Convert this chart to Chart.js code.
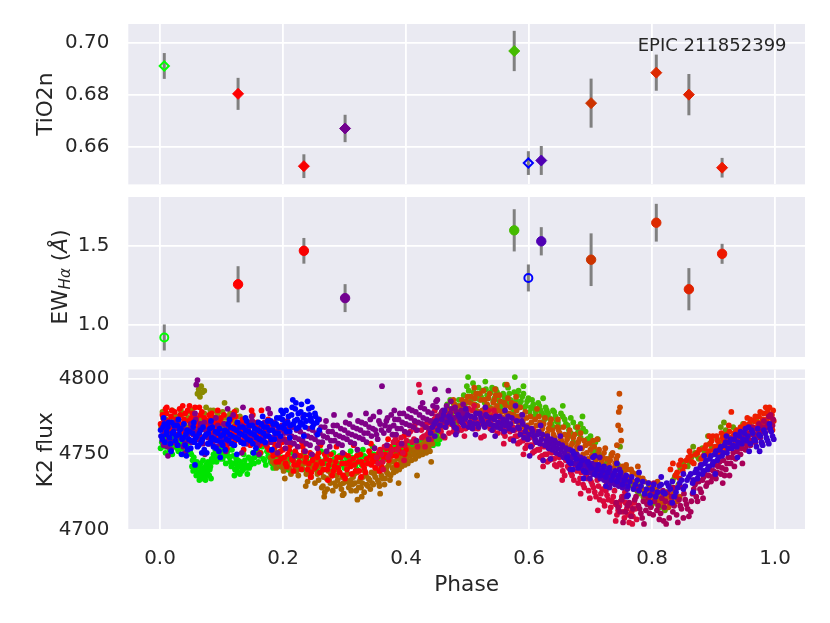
<!DOCTYPE html>
<html>
<head>
<meta charset="utf-8">
<script src="https://cdn.jsdelivr.net/npm/chart.js@4.4.1/dist/chart.umd.min.js"></script>
<style>
  body { margin: 0; background: #fff; }
  #wrap { position: relative; width: 830px; height: 623px; }
  #wrap canvas { position: absolute; left: 0; }
</style>
</head>
<body>
<div id="wrap">
  <canvas id="tioChart" width="830" height="191" style="top:0"></canvas>
  <canvas id="ewChart" width="830" height="172" style="top:191px"></canvas>
  <canvas id="fluxChart" width="830" height="260" style="top:363px"></canvas>
</div>
<script>
// Spectroscopic epochs (phase) and measurements
const specPhase = [0.007, 0.127, 0.234, 0.301, 0.576, 0.599, 0.620, 0.701, 0.807, 0.860, 0.914];
const tioValues = [0.6912, 0.6804, 0.6524, 0.6670, 0.6970, 0.6536, 0.6546, 0.6768, 0.6886, 0.6801, 0.6518];
const tioErrors = [0.0050, 0.0062, 0.0046, 0.0053, 0.0078, 0.0046, 0.0056, 0.0095, 0.0070, 0.0080, 0.0038];
const ewValues = [0.923, 1.258, 1.469, 1.171, 1.598, 1.298, 1.529, 1.413, 1.646, 1.227, 1.450];
const ewErrors = [0.082, 0.114, 0.081, 0.088, 0.133, 0.085, 0.089, 0.166, 0.119, 0.133, 0.063];
const specColors = ['#00ff00', '#ff0000', '#f80000', '#720090', '#44bb00', '#0000ff', '#5000b4', '#cc3300', '#dd2a00', '#e02200', '#ee1800'];
const specOpen = [true, false, false, false, false, true, false, false, false, false, false];

// Tick positions
const xTicks = [0, 0.2, 0.4, 0.6, 0.8, 1.0];
const tioTicks = [0.66, 0.68, 0.70];
const ewTicks = [1.0, 1.5];
const fluxTicks = [4700, 4750, 4800];

// K2 light curve, phase-folded, arrays per colour (cycle)  [phase, flux]
const lcLime = [[.003,4758],[.006,4762],[.008,4755],[.010,4760],[.012,4764],[.014,4757],[.016,4753],[.018,4761],[.021,4758],[.023,4763],[.025,4755],[.027,4760],[.030,4752],[.032,4757],[.034,4762],[.036,4754],[.039,4759],[.041,4751],[.043,4756],[.046,4753],[.048,4758],
  [.051,4750],[.053,4746],[.055,4748],[.057,4743],[.058,4740],[.060,4745],[.062,4738],[.063,4742],[.065,4736],[.066,4744],[.068,4739],[.069,4734],[.071,4741],[.072,4737],[.074,4733],[.076,4740],[.078,4745],[.080,4736],[.082,4742],[.084,4747],[.087,4750],
  [.090,4753],[.093,4749],[.096,4755],[.099,4751],[.102,4747],[.105,4752],[.108,4756],[.111,4749],[.114,4745],[.117,4753],[.120,4744],[.122,4740],[.124,4747],[.126,4738],[.128,4742],[.131,4745],[.133,4739],[.136,4750],[.139,4743],[.142,4737],[.145,4741],[.148,4746],[.151,4751],[.154,4748],[.158,4753],[.162,4749],[.166,4755],[.170,4746],[.174,4752],[.178,4748],[.182,4744],[.186,4750],[.190,4746],[.194,4742],[.198,4748],
  [.202,4744],[.206,4740],[.210,4747],[.214,4751],[.218,4745],[.222,4741],[.226,4748],[.230,4743],[.234,4750],[.238,4746],[.242,4742],[.246,4749],[.250,4745],[.254,4740],[.258,4747],[.262,4752],[.266,4744],[.270,4748],[.274,4742],[.278,4746],[.282,4751],[.286,4745],[.290,4740],[.294,4748],[.298,4743],
  [.302,4749],[.306,4745],[.310,4752],[.314,4747],[.318,4743],[.322,4750],[.326,4746],[.330,4753],[.334,4748],[.338,4744],[.342,4751],[.346,4755],[.350,4749],[.354,4745],[.358,4752],[.362,4748],[.366,4754],[.370,4750],[.374,4746],[.378,4753],[.382,4757],[.386,4751],[.390,4755],[.394,4749],[.398,4756],[.402,4752],[.406,4758],[.410,4754],[.414,4750],[.418,4757],[.422,4753],[.426,4759],[.430,4755],[.434,4760],[.438,4756],[.442,4762],[.446,4758],[.450,4763],[.455,4760]];
const lcLimeB = [[.001,4754],[.005,4757],[.009,4751],[.013,4759],[.017,4756],[.020,4750],[.024,4761],[.028,4754],[.033,4758],[.037,4750],[.040,4756],[.044,4760],[.049,4752],[.052,4742],[.054,4739],[.056,4745],[.059,4736],[.061,4742],[.064,4733],[.067,4740],[.070,4746],[.073,4735],[.075,4743],[.077,4738],[.079,4744],[.081,4740],[.083,4734],[.086,4745],[.089,4748],[.092,4745],[.095,4751],[.098,4747],[.101,4753],[.104,4749],[.107,4744],[.110,4752],[.113,4748],[.116,4742],[.119,4749],[.121,4736],[.123,4744],[.125,4741],[.127,4746],[.130,4737],[.132,4743],[.135,4740],[.138,4746],[.141,4741],[.144,4748],[.147,4743],[.150,4747],[.153,4744],[.156,4750],[.160,4745],[.164,4751],[.168,4747],[.172,4743],[.176,4749],[.180,4745],[.184,4741],[.188,4747],[.192,4749],[.196,4744],[.200,4741],[.204,4748],[.208,4744],[.212,4739],[.216,4746],[.220,4742],[.224,4749],[.228,4745],[.232,4740],[.236,4747],[.240,4744],[.244,4740],[.248,4746],[.252,4742],[.256,4749],[.260,4744],[.264,4740],[.268,4746],[.272,4750],[.276,4743],[.280,4739],[.284,4747],[.288,4743],[.292,4749],[.296,4745],[.300,4741],[.304,4747],[.308,4743],[.312,4748],[.316,4744],[.320,4740],[.324,4747],[.328,4743],[.332,4749],[.336,4745],[.340,4748],[.344,4744],[.348,4750],[.352,4746],[.356,4749],[.360,4745],[.364,4751],[.368,4747],[.372,4752],[.376,4749],[.380,4754],[.384,4750],[.388,4748],[.392,4753],[.396,4751],[.400,4755],[.404,4750],[.408,4756],[.412,4752],[.416,4755],[.420,4751],[.424,4757],[.428,4753],[.432,4758],[.436,4754],[.440,4759],[.444,4756],[.448,4761],[.452,4757]];
const lcOlive = [[.002,4768],[.005,4774],[.008,4771],[.011,4777],[.014,4765],[.017,4772],[.020,4779],[.023,4769],[.026,4775],[.029,4762],[.032,4770],[.035,4776],[.038,4766],[.041,4773],[.044,4768],[.047,4778],[.050,4764],[.053,4771],[.056,4775],[.059,4767],[.061,4790],[.063,4793],[.065,4788],[.067,4795],[.069,4791],[.072,4792],[.064,4773],[.068,4769],[.072,4777],[.075,4781],[.078,4772],[.081,4768],[.084,4776],[.087,4779],[.090,4770],[.093,4774],[.096,4765],[.099,4772],[.102,4778],[.105,4784],[.105,4769],[.108,4775],[.112,4771],[.116,4767],[.120,4773],[.124,4779],[.128,4770],[.132,4766],[.136,4772],[.140,4768],[.145,4763],[.150,4769],[.155,4761],[.160,4766],[.190,4746],[.196,4744]];
const lcOliveB = [[.004,4778],[.010,4773],[.016,4768],[.022,4775],[.028,4771],[.034,4779],[.040,4769],[.046,4774],[.052,4779],[.058,4771],[.070,4774],[.076,4769],[.082,4779],[.088,4773],[.094,4777],[.100,4768],[.106,4774],[.114,4777],[.122,4770],[.130,4775],[.138,4764],[.146,4771]];
const lcOliveGreen = [[.665,4762],[.672,4758],[.680,4765],[.688,4766],[.695,4760],[.703,4756],[.710,4752],[.718,4748],[.726,4744],[.734,4750],[.742,4745],[.748,4755],[.750,4740],[.756,4735],[.762,4729],[.766,4733],[.770,4727],[.774,4731],[.778,4724],[.782,4729],[.786,4722],[.790,4726],[.795,4730],[.800,4724],[.805,4718],[.810,4722],[.813,4715],[.818,4719],[.823,4725],[.828,4729],[.834,4733],[.840,4737],[.846,4741],[.852,4745],[.858,4742],[.864,4748],[.870,4751],[.876,4747],[.882,4754],[.888,4750],[.894,4757],[.900,4753],[.906,4760],[.912,4768],[.916,4762],[.920,4766],[.926,4761],[.932,4768],[.940,4765],[.948,4770],[.956,4768],[.965,4772],[.975,4770],[.990,4776]];
const lcOliveGreenB = [[.668,4764],[.684,4761],[.700,4758],[.714,4750],[.730,4747],[.745,4743],[.753,4737],[.760,4732],[.768,4730],[.776,4726],[.784,4727],[.792,4722],[.802,4720],[.808,4725],[.816,4717],[.826,4722],[.837,4735],[.849,4743],[.861,4745],[.873,4749],[.885,4752],[.897,4755],[.909,4758],[.922,4764],[.936,4766],[.952,4767],[.970,4774],
  [.757,4741],[.781,4733],[.799,4716],[.821,4713],[.843,4730],[.867,4755],[.891,4762],[.917,4771]];
const lcGreen = [[.440,4762],[.446,4768],[.452,4765],[.458,4772],[.463,4769],[.468,4776],[.472,4786],[.476,4779],[.480,4774],[.484,4782],[.488,4777],[.492,4785],[.496,4780],[.501,4801],[.504,4788],[.509,4797],[.512,4783],[.516,4790],[.520,4786],[.524,4792],[.528,4784],[.532,4789],[.536,4781],[.540,4794],[.544,4787],[.548,4791],[.552,4785],[.556,4779],[.560,4788],[.564,4783],[.566,4794],[.570,4786],[.574,4780],[.577,4801],[.581,4789],[.585,4783],[.589,4788],[.593,4781],[.597,4785],[.601,4778],[.605,4786],[.609,4780],[.613,4775],[.617,4782],[.621,4777],[.625,4773],[.629,4779],[.633,4774],[.637,4770],[.641,4778],[.645,4772],[.650,4768],[.655,4775],[.660,4770],[.665,4766],[.672,4771],[.680,4764],[.688,4767],[.696,4760],[.705,4756],[.712,4760]];
const lcGreenB = [[.443,4765],[.449,4771],[.455,4768],[.461,4775],[.466,4772],[.470,4780],[.474,4776],[.478,4783],[.482,4779],[.486,4786],[.490,4781],[.494,4789],[.498,4784],[.502,4792],[.506,4786],[.510,4791],[.514,4787],[.518,4794],[.522,4788],[.526,4786],[.530,4793],[.534,4787],[.538,4791],[.542,4785],[.546,4793],[.550,4788],[.554,4782],[.558,4790],[.562,4786],[.568,4790],[.572,4784],[.576,4791],[.579,4786],[.583,4792],[.587,4785],[.591,4790],[.595,4782],[.599,4787],[.603,4781],[.607,4783],[.611,4778],[.615,4784],[.619,4779],[.623,4776],[.627,4781],[.631,4777],[.635,4773],[.639,4779],[.643,4775],[.647,4771],[.652,4777],[.658,4773],[.663,4769],[.668,4774],[.676,4768],[.684,4770],[.692,4765],[.700,4762],[.708,4758],
  [.451,4760],[.467,4783],[.483,4771],[.499,4795],[.513,4779],[.529,4798],[.545,4780],[.561,4796],[.575,4777],[.591,4795],[.607,4775],[.623,4787],[.639,4768],[.655,4782],[.671,4763],[.687,4775],[.703,4752]];
const lcBrown = [[.180,4748],[.186,4744],[.192,4750],[.198,4742],[.204,4747],[.210,4741],[.216,4746],[.222,4739],[.228,4744],[.234,4748],[.238,4737],[.242,4742],[.246,4735],[.250,4740],[.254,4745],[.258,4733],[.262,4738],[.265,4729],[.268,4725],[.271,4734],[.274,4739],[.277,4731],[.280,4736],[.283,4742],[.286,4729],[.289,4733],[.292,4738],[.295,4727],[.298,4731],[.301,4736],[.304,4741],[.307,4728],[.310,4733],[.313,4730],[.316,4737],[.319,4726],[.321,4720],[.324,4732],[.327,4728],[.330,4735],[.333,4739],[.336,4730],[.339,4734],[.342,4727],[.345,4731],[.348,4737],[.351,4741],[.354,4733],[.357,4729],[.360,4736],[.363,4740],[.366,4734],[.369,4738],[.372,4743],[.375,4736],[.378,4741],[.381,4745],[.384,4739],[.387,4743],[.390,4748],[.393,4742],[.396,4746],[.399,4751],[.403,4744],[.407,4749],[.411,4753],[.415,4747],[.419,4752],[.423,4756],[.427,4750],[.431,4754],[.435,4758],[.439,4752],[.443,4757]];
const lcBrownB = [[.183,4745],[.189,4741],[.195,4747],[.201,4739],[.207,4744],[.213,4737],[.219,4743],[.225,4736],[.231,4741],[.236,4744],[.240,4732],[.244,4738],[.248,4743],[.252,4731],[.256,4737],[.260,4742],[.263,4728],[.266,4735],[.269,4740],[.272,4727],[.275,4733],[.278,4737],[.281,4726],[.284,4731],[.287,4736],[.290,4740],[.293,4730],[.296,4735],[.299,4724],[.302,4732],[.305,4737],[.308,4731],[.311,4726],[.314,4735],[.317,4731],[.320,4738],[.323,4728],[.326,4734],[.329,4731],[.332,4725],[.335,4736],[.338,4729],[.341,4733],[.344,4738],[.347,4730],[.350,4735],[.353,4739],[.356,4731],[.359,4740],[.362,4734],[.365,4730],[.368,4741],[.371,4737],[.374,4733],[.377,4745],[.380,4738],[.383,4742],[.386,4747],[.389,4740],[.392,4745],[.395,4749],[.398,4743],[.401,4747],[.405,4752],[.409,4746],[.413,4750],[.417,4755],[.421,4749],[.425,4753],[.429,4757],[.433,4751],[.437,4755],
  [.187,4752],[.203,4734],[.221,4749],[.237,4729],[.253,4747],[.267,4722],[.282,4745],[.297,4723],[.312,4744],[.328,4722],[.343,4745],[.358,4724],[.373,4748],[.388,4731],[.404,4754],[.418,4736],[.432,4760],[.441,4745]];
const lcOrange = [[.445,4766],[.452,4772],[.458,4768],[.464,4776],[.470,4771],[.476,4779],[.482,4774],[.488,4782],[.494,4777],[.498,4785],[.502,4780],[.506,4788],[.510,4783],[.514,4790],[.518,4778],[.522,4786],[.526,4792],[.530,4781],[.534,4787],[.538,4776],[.542,4784],[.546,4789],[.550,4779],[.554,4785],[.558,4774],[.562,4782],[.564,4796],[.568,4777],[.572,4784],[.576,4772],[.580,4779],[.584,4770],[.588,4776],[.592,4768],[.596,4774],[.600,4765],[.604,4771],[.608,4762],[.612,4769],[.616,4775],[.620,4764],[.624,4770],[.628,4761],[.632,4767],[.636,4773],[.640,4763],[.644,4758],[.648,4766],[.652,4760],[.656,4768],[.660,4757],[.664,4763],[.668,4755],[.672,4761],[.676,4752],[.680,4758],[.684,4764],[.688,4750],[.692,4756],[.696,4747],[.700,4753],[.704,4759],[.708,4745],[.712,4750],[.716,4743],[.720,4748],[.724,4754],[.728,4741],[.732,4746],[.736,4751],[.740,4744],[.744,4749],[.746,4778],[.747,4790],[.748,4781],[.749,4766],[.750,4759],[.754,4738],[.758,4743],[.762,4735],[.766,4740],[.770,4732],[.775,4737],[.780,4729],[.785,4734],[.790,4726],[.795,4731],[.800,4722],[.805,4727],[.810,4720],[.815,4725],[.820,4718],[.826,4723],[.832,4720],[.838,4726],[.845,4722]];
const lcOrangeB = [[.448,4770],[.455,4776],[.461,4773],[.467,4779],[.473,4775],[.479,4783],[.485,4778],[.491,4786],[.496,4781],[.500,4788],[.504,4784],[.508,4779],[.512,4787],[.516,4782],[.520,4790],[.524,4779],[.528,4786],[.532,4783],[.536,4790],[.540,4780],[.544,4786],[.548,4782],[.552,4789],[.556,4778],[.560,4784],[.564,4777],[.566,4787],[.570,4781],[.574,4776],[.578,4783],[.582,4775],[.586,4781],[.590,4772],[.594,4778],[.598,4769],[.602,4775],[.606,4767],[.610,4773],[.614,4765],[.618,4771],[.622,4767],[.626,4774],[.630,4764],[.634,4770],[.638,4766],[.642,4761],[.646,4768],[.650,4764],[.654,4758],[.658,4763],[.662,4760],[.666,4766],[.670,4757],[.674,4763],[.678,4755],[.682,4760],[.686,4754],[.690,4759],[.694,4751],[.698,4757],[.702,4749],[.706,4755],[.710,4747],[.714,4753],[.718,4745],[.722,4751],[.726,4747],[.730,4743],[.734,4749],[.738,4741],[.742,4747],[.745,4769],[.752,4742],[.756,4736],[.760,4740],[.764,4733],[.768,4738],[.773,4731],[.778,4735],[.783,4727],[.788,4732],[.793,4724],[.798,4729],[.803,4721],[.808,4726],[.813,4718],[.818,4723],[.823,4721],[.829,4717],[.835,4724],[.841,4719],
  [.459,4762],[.477,4786],[.493,4771],[.511,4794],[.527,4774],[.545,4793],[.561,4771],[.579,4788],[.597,4763],[.613,4780],[.629,4757],[.647,4773],[.663,4751],[.679,4768],[.695,4744],[.711,4760],[.727,4737],[.743,4756],[.759,4730],[.777,4742],[.793,4720],[.809,4732],[.827,4715],[.843,4729]];
const lcRed = [[.001,4770],[.004,4776],[.007,4764],[.009,4780],[.012,4772],[.015,4767],[.018,4775],[.021,4770],[.024,4778],[.027,4763],[.030,4771],[.033,4776],[.036,4768],[.039,4773],[.042,4766],[.045,4779],[.048,4782],[.051,4774],[.054,4769],[.057,4781],[.060,4771],[.063,4765],[.066,4776],[.069,4770],[.072,4774],[.075,4762],[.078,4768],[.081,4773],[.084,4777],[.087,4766],[.090,4771],[.093,4760],[.096,4767],[.099,4774],[.102,4763],[.105,4770],[.108,4757],[.111,4766],[.114,4772],[.117,4761],[.120,4768],[.123,4775],[.126,4764],[.129,4770],[.132,4758],[.135,4765],[.138,4771],[.141,4762],[.144,4768],[.147,4756],[.149,4779],[.152,4763],[.155,4769],[.158,4758],[.161,4764],[.165,4779],[.168,4760],[.171,4766],[.174,4755],[.176,4773],[.179,4761],[.182,4752],[.185,4758],[.188,4764],[.191,4750],[.194,4756],[.197,4747],[.200,4753],[.204,4744],[.208,4750],[.212,4756],[.216,4746],[.220,4752],[.224,4743],[.228,4749],[.232,4755],[.236,4745],[.240,4740],[.244,4751],[.248,4746],[.252,4741],[.256,4748],[.260,4738],[.264,4744],[.268,4750],[.272,4740],[.276,4746],[.280,4736],[.284,4742],[.288,4748],[.292,4738],[.296,4744],[.300,4750],[.304,4740],[.308,4745],[.312,4737],[.316,4743],[.320,4749],[.324,4739],[.328,4745],[.332,4741],[.336,4747],[.340,4752],[.344,4743],[.348,4749],[.352,4745],[.356,4751],[.360,4742],[.364,4748],[.368,4754],[.372,4746],[.376,4752],[.380,4758],[.384,4749],[.388,4755],[.392,4751],[.396,4757],[.400,4753]];
const lcRedB = [[.003,4767],[.006,4773],[.010,4777],[.013,4764],[.016,4771],[.019,4779],[.022,4766],[.026,4773],[.029,4768],[.032,4780],[.035,4765],[.038,4770],[.041,4777],[.044,4763],[.047,4772],[.050,4767],[.053,4777],[.056,4764],[.059,4774],[.062,4769],[.065,4762],[.068,4778],[.071,4767],[.074,4771],[.077,4765],[.080,4776],[.083,4769],[.086,4763],[.089,4774],[.092,4768],[.095,4762],[.098,4771],[.101,4765],[.104,4776],[.107,4761],[.110,4769],[.113,4763],[.116,4774],[.119,4765],[.122,4759],[.125,4770],[.128,4761],[.131,4767],[.134,4773],[.137,4760],[.140,4766],[.143,4757],[.146,4770],[.149,4763],[.152,4758],[.155,4765],[.158,4771],[.162,4756],[.166,4762],[.170,4757],[.173,4769],[.177,4753],[.181,4760],[.184,4749],[.187,4755],[.190,4761],[.193,4745],[.196,4752],[.199,4758],[.202,4748],[.206,4742],[.210,4753],[.214,4747],[.218,4743],[.222,4750],[.226,4745],[.230,4740],[.234,4752],[.238,4748],[.242,4744],[.246,4738],[.250,4749],[.254,4743],[.258,4751],[.262,4745],[.266,4740],[.270,4747],[.274,4743],[.278,4750],[.282,4739],[.286,4745],[.290,4741],[.294,4748],[.298,4736],[.302,4744],[.306,4749],[.310,4742],[.314,4747],[.318,4739],[.322,4745],[.326,4750],[.330,4743],[.334,4738],[.338,4744],[.342,4749],[.346,4746],[.350,4741],[.354,4748],[.358,4753],[.362,4745],[.366,4750],[.370,4748],[.374,4755],[.378,4749],[.382,4753],[.386,4758],[.390,4752],[.394,4756],[.398,4750],
  [.011,4781],[.025,4758],[.037,4782],[.049,4759],[.064,4781],[.079,4757],[.094,4779],[.109,4754],[.121,4778],[.136,4753],[.151,4776],[.163,4751],[.178,4770],[.189,4745],[.203,4760],[.217,4739],[.231,4758],[.245,4735],[.261,4756],[.273,4733],[.287,4755],[.301,4734],[.315,4756],[.327,4735],[.343,4757],[.357,4739],[.371,4760],[.385,4743],[.397,4762]];
const lcRed2 = [[.830,4740],[.838,4736],[.844,4743],[.850,4739],[.856,4746],[.863,4749],[.868,4744],[.874,4751],[.880,4747],[.886,4754],[.890,4750],[.895,4757],[.899,4762],[.903,4755],[.907,4759],[.911,4753],[.915,4761],[.918,4756],[.921,4763],[.924,4758],[.927,4754],[.929,4778],[.931,4760],[.934,4764],[.937,4757],[.940,4762],[.943,4766],[.946,4759],[.949,4763],[.952,4768],[.955,4761],[.958,4770],[.962,4765],[.966,4772],[.970,4768],[.974,4775],[.978,4770],[.982,4777],[.986,4773],[.991,4781],[.995,4776],[.998,4772]];
const lcRed2B = [[.834,4744],[.841,4738],[.847,4746],[.853,4742],[.859,4748],[.865,4745],[.871,4750],[.877,4753],[.883,4749],[.888,4756],[.893,4752],[.897,4759],[.901,4753],[.905,4762],[.909,4756],[.913,4764],[.917,4759],[.920,4754],[.923,4761],[.926,4765],[.929,4756],[.932,4762],[.935,4759],[.938,4766],[.941,4760],[.944,4768],[.947,4763],[.950,4770],[.953,4765],[.956,4762],[.960,4773],[.964,4768],[.968,4775],[.972,4771],[.976,4778],[.980,4773],[.984,4770],[.988,4778],[.993,4774],[.997,4779],
  [.845,4734],[.861,4752],[.879,4743],[.893,4762],[.909,4750],[.925,4769],[.939,4755],[.955,4774],[.969,4763],[.985,4781],[.996,4766]];
const lcCrimson = [[.352,4748],[.358,4752],[.362,4745],[.368,4755],[.374,4750],[.380,4758],[.386,4753],[.392,4761],[.398,4756],[.404,4763],[.410,4758],[.416,4766],[.421,4796],[.423,4791],[.426,4761],[.430,4768],[.434,4763],[.438,4771],[.442,4765],[.446,4773],[.450,4768],[.454,4775],[.458,4769],[.462,4777],[.466,4771],[.470,4764],[.474,4774],[.478,4768],[.482,4778],[.486,4772],[.490,4766],[.494,4776],[.498,4770],[.502,4780],[.506,4773],[.510,4767],[.514,4777],[.518,4771],[.522,4761],[.526,4775],[.530,4769],[.534,4779],[.538,4772],[.542,4766],[.546,4776],[.550,4770],[.554,4774],[.558,4764],[.562,4771],[.566,4767],[.570,4760],[.574,4768],[.578,4762],[.582,4757],[.586,4765],[.590,4759],[.594,4754],[.598,4762],[.602,4756],[.606,4751],[.610,4759],[.614,4753],[.618,4748],[.622,4756],[.626,4750],[.630,4745],[.634,4753],[.638,4747],[.642,4743],[.646,4750],[.650,4744],[.655,4739],[.660,4746],[.665,4741],[.670,4736],[.675,4743],[.680,4731],[.685,4738],[.690,4728],[.695,4734],[.699,4721],[.703,4730],[.707,4725],[.711,4733],[.715,4720],[.719,4727],[.723,4716],[.727,4723],[.731,4712],[.735,4719],[.739,4726],[.743,4710],[.747,4716],[.751,4722],[.755,4708],[.759,4714],[.763,4705],[.767,4712],[.771,4718],[.775,4707]];
const lcCrimsonB = [[.355,4744],[.360,4750],[.365,4755],[.371,4748],[.377,4753],[.383,4760],[.389,4756],[.395,4751],[.401,4759],[.407,4765],[.413,4760],[.419,4755],[.425,4766],[.429,4762],[.433,4770],[.437,4765],[.441,4760],[.445,4769],[.449,4775],[.453,4770],[.457,4765],[.461,4773],[.465,4768],[.469,4776],[.473,4770],[.477,4765],[.481,4774],[.485,4768],[.489,4777],[.493,4772],[.497,4767],[.501,4776],[.505,4770],[.509,4779],[.513,4773],[.517,4767],[.521,4776],[.525,4770],[.529,4778],[.533,4772],[.537,4767],[.541,4775],[.545,4769],[.549,4764],[.553,4771],[.557,4767],[.561,4762],[.565,4770],[.569,4765],[.573,4760],[.577,4766],[.581,4762],[.585,4758],[.589,4764],[.593,4760],[.597,4756],[.601,4761],[.605,4756],[.609,4752],[.613,4758],[.617,4753],[.621,4749],[.625,4755],[.629,4750],[.633,4746],[.637,4751],[.641,4747],[.645,4742],[.649,4748],[.653,4743],[.658,4736],[.663,4742],[.668,4738],[.673,4733],[.678,4739],[.683,4734],[.688,4730],[.693,4736],[.697,4726],[.701,4732],[.705,4728],[.709,4722],[.713,4729],[.717,4724],[.721,4719],[.725,4726],[.729,4720],[.733,4715],[.737,4722],[.741,4717],[.745,4713],[.749,4719],[.753,4712],[.757,4718],[.761,4710],[.765,4716],[.769,4709],[.773,4714],
  [.363,4740],[.379,4763],[.397,4746],[.414,4769],[.431,4755],[.447,4779],[.463,4761],[.479,4781],[.495,4762],[.511,4782],[.527,4762],[.543,4779],[.559,4757],[.575,4773],[.591,4750],[.607,4766],[.623,4742],[.639,4758],[.654,4733],[.669,4748],[.684,4724],[.698,4740],[.712,4713],[.726,4730],[.741,4706],[.756,4725],[.768,4704]];
const lcMagenta = [[.742,4718],[.748,4712],[.754,4722],[.760,4716],[.766,4709],[.772,4720],[.776,4727],[.780,4714],[.784,4708],[.788,4723],[.792,4717],[.796,4711],[.800,4726],[.804,4719],[.808,4713],[.812,4707],[.816,4721],[.820,4715],[.823,4704],[.826,4725],[.830,4718],[.834,4712],[.838,4722],[.842,4705],[.846,4716],[.850,4728],[.854,4720],[.858,4714],[.863,4712],[.866,4724],[.870,4730],[.874,4719],[.878,4727],[.882,4733],[.886,4737],[.890,4731],[.894,4740],[.898,4735],[.902,4743],[.906,4738],[.910,4745],[.914,4741],[.918,4736],[.922,4744],[.926,4736],[.930,4748],[.934,4742],[.938,4752],[.942,4757],[.946,4754],[.950,4761],[.954,4756],[.958,4764],[.962,4759],[.966,4767],[.970,4762],[.974,4770],[.978,4765],[.982,4772],[.986,4768],[.990,4775],[.994,4770],[.997,4773]];
const lcMagentaB = [[.745,4715],[.751,4720],[.757,4712],[.763,4718],[.769,4714],[.774,4722],[.778,4716],[.782,4711],[.786,4719],[.790,4713],[.794,4721],[.798,4715],[.802,4710],[.806,4723],[.810,4716],[.814,4711],[.818,4726],[.822,4719],[.828,4708],[.832,4722],[.836,4716],[.840,4710],[.844,4720],[.848,4714],[.852,4724],[.856,4717],[.860,4709],[.864,4719],[.868,4727],[.872,4722],[.876,4732],[.880,4725],[.884,4735],[.888,4729],[.892,4736],[.896,4732],[.900,4739],[.904,4734],[.908,4742],[.912,4737],[.916,4746],[.920,4740],[.924,4748],[.928,4744],[.932,4751],[.936,4747],[.940,4754],[.944,4750],[.948,4758],[.952,4753],[.956,4760],[.960,4756],[.964,4763],[.968,4758],[.972,4766],[.976,4761],[.980,4768],[.984,4764],[.988,4770],[.992,4766],[.996,4769],
  [.753,4705],[.771,4728],[.787,4704],[.803,4731],[.819,4706],[.835,4728],[.851,4708],[.867,4733],[.883,4721],[.899,4744],[.915,4731],[.931,4755],[.947,4744],[.963,4768],[.979,4757],[.993,4776]];
const lcPurple = [[.002,4762],[.006,4756],[.010,4766],[.014,4760],[.018,4753],[.022,4764],[.026,4758],[.030,4768],[.034,4761],[.038,4755],[.042,4765],[.046,4759],[.050,4770],[.054,4763],[.057,4777],[.059,4796],[.061,4799],[.064,4767],[.068,4760],[.072,4771],[.076,4764],[.080,4757],[.084,4768],[.088,4762],[.092,4755],[.096,4766],[.100,4760],[.104,4770],[.108,4763],[.110,4780],[.114,4757],[.118,4767],[.122,4761],[.126,4771],[.130,4764],[.135,4781],[.138,4758],[.142,4768],[.146,4762],[.150,4772],[.154,4765],[.158,4756],[.162,4767],[.166,4761],[.170,4771],[.174,4764],[.176,4780],[.180,4758],[.184,4768],[.188,4762],[.192,4756],[.196,4766],[.200,4760],[.204,4754],[.208,4764],[.212,4758],[.216,4768],[.220,4761],[.224,4755],[.228,4765],[.232,4759],[.236,4752],[.240,4762],[.244,4756],[.248,4766],[.252,4760],[.256,4754],[.260,4764],[.264,4758],[.268,4768],[.272,4761],[.276,4755],[.280,4765],[.284,4759],[.288,4769],[.292,4762],[.296,4756],[.300,4766],[.304,4760],[.308,4770],[.312,4763],[.316,4757],[.320,4767],[.324,4761],[.328,4771],[.332,4764],[.336,4758],[.340,4768],[.344,4762],[.347,4775],[.350,4766],[.354,4760],[.358,4770],[.361,4795],[.364,4764],[.368,4772],[.372,4766],[.376,4776],[.380,4769],[.384,4763],[.388,4773],[.392,4767],[.396,4777],[.400,4770],[.404,4764],[.408,4774],[.412,4768],[.416,4778],[.420,4771],[.424,4781],[.428,4774],[.432,4768],[.436,4778],[.440,4772],[.444,4782],[.447,4793],[.449,4785],[.452,4775],[.456,4769],[.460,4779],[.464,4773],[.469,4792],[.472,4777],[.476,4771],[.480,4781],[.485,4775],[.490,4779],[.496,4773]];
const lcPurpleB = [[.004,4759],[.008,4765],[.012,4755],[.016,4763],[.020,4758],[.024,4767],[.028,4756],[.032,4762],[.036,4768],[.040,4757],[.044,4762],[.048,4766],[.052,4758],[.056,4765],[.062,4760],[.066,4770],[.070,4757],[.074,4766],[.078,4761],[.082,4770],[.086,4758],[.090,4764],[.094,4769],[.098,4757],[.102,4765],[.106,4759],[.112,4768],[.116,4762],[.120,4756],[.124,4766],[.128,4760],[.132,4769],[.136,4763],[.140,4757],[.144,4766],[.148,4760],[.152,4769],[.156,4762],[.160,4758],[.164,4770],[.168,4764],[.172,4757],[.178,4766],[.182,4761],[.186,4771],[.190,4765],[.194,4759],[.198,4769],[.202,4764],[.206,4758],[.210,4768],[.214,4762],[.218,4757],[.222,4766],[.226,4760],[.230,4770],[.234,4763],[.238,4757],[.242,4767],[.246,4761],[.250,4770],[.254,4764],[.258,4758],[.262,4768],[.266,4762],[.270,4772],[.274,4765],[.278,4759],[.282,4769],[.286,4763],[.290,4757],[.294,4767],[.298,4761],[.302,4771],[.306,4764],[.310,4758],[.314,4768],[.318,4762],[.322,4772],[.326,4766],[.330,4760],[.334,4770],[.338,4764],[.342,4773],[.346,4767],[.352,4763],[.356,4772],[.360,4766],[.366,4769],[.370,4774],[.374,4768],[.378,4763],[.382,4773],[.386,4767],[.390,4777],[.394,4771],[.398,4765],[.402,4775],[.406,4769],[.410,4779],[.414,4772],[.418,4766],[.422,4776],[.426,4770],[.430,4780],[.434,4773],[.438,4767],[.442,4777],[.446,4771],[.450,4781],[.454,4774],[.458,4778],[.462,4772],[.466,4782],[.470,4775],[.474,4780],[.478,4774],[.482,4778],[.488,4772],[.492,4776],[.498,4778],
  [.013,4749],[.027,4771],[.041,4751],[.058,4773],[.073,4750],[.091,4774],[.107,4752],[.119,4776],[.133,4751],[.149,4775],[.161,4750],[.179,4777],[.191,4751],[.207,4772],[.219,4749],[.233,4775],[.247,4750],[.259,4773],[.271,4752],[.283,4776],[.297,4751],[.309,4776],[.321,4753],[.335,4777],[.349,4754],[.357,4778],[.369,4756],[.381,4779],[.393,4757],[.405,4780],[.417,4759],[.427,4784],[.437,4760],[.451,4786],[.461,4762],[.473,4785],[.483,4765],[.493,4783]];
const lcIndigo = [[.440,4764],[.446,4770],[.452,4766],[.458,4773],[.464,4768],[.470,4775],[.476,4770],[.482,4767],[.488,4774],[.494,4769],[.500,4776],[.504,4771],[.508,4767],[.512,4774],[.516,4770],[.520,4777],[.524,4772],[.528,4768],[.532,4775],[.536,4770],[.540,4766],[.544,4773],[.548,4768],[.552,4775],[.556,4770],[.560,4765],[.564,4772],[.568,4767],[.572,4774],[.578,4782],[.582,4768],[.586,4763],[.590,4770],[.594,4765],[.598,4760],[.601,4749],[.604,4767],[.608,4762],[.612,4758],[.616,4765],[.620,4760],[.623,4746],[.626,4756],[.630,4762],[.634,4757],[.638,4753],[.642,4759],[.646,4754],[.650,4750],[.654,4756],[.658,4751],[.662,4747],[.666,4753],[.670,4748],[.674,4744],[.678,4750],[.682,4745],[.686,4741],[.690,4747],[.694,4742],[.698,4738],[.702,4744],[.706,4740],[.710,4736],[.714,4742],[.718,4737],[.722,4733],[.726,4739],[.730,4735],[.734,4731],[.738,4737],[.742,4733],[.746,4729],[.750,4735],[.755,4731],[.760,4727]];
const lcIndigoB = [[.443,4768],[.449,4772],[.455,4769],[.461,4776],[.467,4771],[.473,4773],[.479,4768],[.485,4776],[.491,4771],[.497,4774],[.502,4768],[.506,4775],[.510,4770],[.514,4777],[.518,4768],[.522,4774],[.526,4770],[.530,4776],[.534,4771],[.538,4774],[.542,4769],[.546,4775],[.550,4771],[.554,4767],[.558,4773],[.562,4769],[.566,4775],[.570,4770],[.574,4766],[.580,4772],[.584,4767],[.588,4772],[.592,4761],[.596,4768],[.600,4763],[.606,4765],[.610,4760],[.614,4763],[.618,4757],[.622,4763],[.628,4759],[.632,4754],[.636,4760],[.640,4756],[.644,4751],[.648,4757],[.652,4753],[.656,4748],[.660,4754],[.664,4749],[.668,4745],[.672,4751],[.676,4747],[.680,4742],[.684,4748],[.688,4744],[.692,4739],[.696,4745],[.700,4741],[.704,4737],[.708,4743],[.712,4739],[.716,4734],[.720,4740],[.724,4736],[.728,4732],[.732,4738],[.736,4734],[.740,4730],[.744,4736],[.748,4732],[.752,4728],[.757,4734],
  [.447,4762],[.463,4779],[.481,4763],[.497,4780],[.513,4763],[.529,4781],[.545,4762],[.561,4779],[.575,4759],[.589,4776],[.603,4755],[.619,4769],[.635,4747],[.651,4762],[.667,4740],[.683,4754],[.699,4734],[.715,4748],[.731,4728],[.747,4740],[.759,4722]];
const lcViolet = [[.662,4748],[.668,4744],[.674,4750],[.680,4741],[.686,4746],[.692,4738],[.698,4743],[.704,4748],[.710,4740],[.716,4736],[.722,4742],[.728,4738],[.734,4733],[.740,4739],[.746,4735],[.752,4730],[.758,4736],[.764,4732],[.770,4727],[.776,4733],[.782,4729],[.788,4724],[.794,4731],[.800,4727],[.806,4722],[.812,4729],[.818,4725],[.824,4731],[.830,4727],[.836,4722],[.842,4728],[.848,4733],[.854,4729],[.860,4735],[.866,4731],[.870,4738],[.874,4734],[.878,4741],[.882,4737],[.886,4744],[.890,4740],[.894,4747],[.898,4743],[.902,4750],[.906,4746],[.910,4753],[.914,4749],[.918,4756],[.922,4751],[.926,4758],[.930,4754],[.934,4760],[.938,4755],[.942,4762],[.946,4757],[.950,4764],[.954,4759],[.958,4752],[.962,4766],[.966,4760],[.970,4755],[.974,4763],[.978,4758],[.982,4766],[.986,4761],[.990,4757],[.994,4765],[.998,4760]];
const lcVioletB = [[.665,4745],[.671,4740],[.677,4747],[.683,4743],[.689,4739],[.695,4745],[.701,4741],[.707,4737],[.713,4743],[.719,4739],[.725,4735],[.731,4741],[.737,4736],[.743,4732],[.749,4738],[.755,4733],[.761,4729],[.767,4735],[.773,4730],[.779,4726],[.785,4732],[.791,4727],[.797,4723],[.803,4730],[.809,4725],[.815,4730],[.821,4724],[.827,4729],[.833,4732],[.839,4725],[.845,4731],[.851,4727],[.857,4733],[.863,4737],[.868,4733],[.872,4740],[.876,4737],[.880,4743],[.884,4739],[.888,4746],[.892,4742],[.896,4749],[.900,4745],[.904,4752],[.908,4748],[.912,4755],[.916,4751],[.920,4758],[.924,4754],[.928,4760],[.932,4756],[.936,4763],[.940,4758],[.944,4765],[.948,4760],[.952,4767],[.956,4762],[.960,4757],[.964,4764],[.968,4759],[.972,4767],[.976,4762],[.980,4756],[.984,4764],[.988,4759],[.992,4767],[.996,4762],
  [.671,4752],[.689,4734],[.707,4749],[.725,4729],[.743,4744],[.761,4723],[.779,4738],[.797,4718],[.815,4735],[.833,4718],[.851,4737],[.867,4725],[.885,4749],[.903,4737],[.921,4762],[.939,4748],[.957,4768],[.975,4752],[.991,4770]];
const lcBlue = [[.001,4766],[.004,4760],[.007,4770],[.010,4763],[.013,4768],[.016,4761],[.019,4771],[.022,4765],[.025,4759],[.028,4769],[.031,4763],[.034,4767],[.035,4750],[.038,4761],[.041,4756],[.044,4766],[.047,4760],[.050,4754],[.053,4764],[.056,4758],[.057,4743],[.060,4762],[.063,4756],[.066,4766],[.069,4760],[.072,4753],[.075,4763],[.078,4757],[.081,4767],[.084,4761],[.087,4755],[.090,4765],[.093,4759],[.096,4752],[.099,4762],[.102,4756],[.105,4766],[.108,4760],[.111,4770],[.114,4763],[.117,4757],[.120,4767],[.123,4761],[.126,4771],[.129,4764],[.132,4758],[.135,4768],[.138,4762],[.141,4772],[.144,4765],[.147,4759],[.150,4769],[.153,4763],[.156,4754],[.159,4766],[.162,4760],[.165,4770],[.168,4764],[.171,4758],[.174,4768],[.177,4762],[.180,4772],[.183,4766],[.186,4760],[.189,4770],[.192,4764],[.195,4774],[.198,4768],[.200,4777],[.203,4770],[.206,4765],[.209,4775],[.212,4769],[.215,4781],[.216,4786],[.219,4772],[.222,4767],[.225,4777],[.228,4771],[.230,4783],[.233,4774],[.236,4768],[.240,4785],[.243,4776],[.246,4772],[.250,4770],[.253,4775],[.257,4773],[.259,4766]];
const lcBlueB = [[.002,4762],[.005,4768],[.008,4758],[.011,4765],[.014,4771],[.017,4757],[.020,4764],[.023,4769],[.026,4762],[.029,4756],[.032,4766],[.036,4760],[.039,4770],[.042,4763],[.045,4753],[.048,4765],[.051,4759],[.054,4768],[.058,4761],[.061,4755],[.064,4764],[.067,4758],[.070,4768],[.073,4762],[.076,4751],[.079,4764],[.082,4758],[.085,4768],[.088,4760],[.091,4754],[.094,4764],[.097,4767],[.100,4758],[.103,4763],[.106,4753],[.109,4765],[.112,4759],[.115,4768],[.118,4762],[.121,4756],[.124,4766],[.127,4760],[.130,4768],[.133,4763],[.136,4757],[.139,4766],[.142,4760],[.145,4769],[.148,4764],[.151,4757],[.154,4767],[.157,4761],[.160,4771],[.163,4765],[.166,4759],[.169,4768],[.172,4762],[.175,4772],[.178,4766],[.181,4760],[.184,4770],[.187,4764],[.190,4774],[.193,4768],[.196,4762],[.199,4773],[.202,4767],[.205,4779],[.208,4771],[.211,4765],[.214,4776],[.217,4770],[.220,4780],[.223,4773],[.226,4768],[.229,4778],[.232,4770],[.235,4776],[.238,4772],[.242,4780],[.245,4774],[.248,4768],[.252,4777],[.255,4771],
  [.006,4774],[.018,4752],[.030,4773],[.043,4749],[.055,4771],[.068,4751],[.083,4772],[.098,4748],[.113,4773],[.125,4750],[.139,4774],[.152,4751],[.167,4775],[.182,4753],[.197,4779],[.211,4761],[.221,4784],[.234,4762],[.247,4781],[.256,4763]];

// bottom layer first
const lightCurves = [
  [[lcLime, lcLimeB], '#00e400'], [[lcOlive, lcOliveB], '#8a8a00'], [[lcOliveGreen, lcOliveGreenB], '#669900'],
  [[lcGreen, lcGreenB], '#44bb00'], [[lcBrown, lcBrownB], '#aa6400'], [[lcOrange, lcOrangeB], '#c84a00'],
  [[lcRed, lcRedB], '#ff0000'], [[lcRed2, lcRed2B], '#ee1e00'], [[lcCrimson, lcCrimsonB], '#d8083c'],
  [[lcMagenta, lcMagentaB], '#a80058'], [[lcPurple, lcPurpleB], '#800088'], [[lcIndigo, lcIndigoB], '#5400b4'],
  [[lcViolet, lcVioletB], '#3800d0'], [[lcBlue, lcBlueB], '#0000ff']
];

const INK = '#262626';
const PANEL_BG = '#eaeaf2';
const Y_AXIS_W = 128.3;

Chart.defaults.font.family = '"DejaVu Sans", sans-serif';
Chart.defaults.color = INK;
Chart.defaults.animation = false;

const panelBg = {
  id: 'panelBg',
  beforeDraw(chart) {
    const { ctx, chartArea: a } = chart;
    ctx.save();
    ctx.fillStyle = PANEL_BG;
    ctx.fillRect(a.left, a.top, a.right - a.left, a.bottom - a.top);
    ctx.restore();
  }
};

function errorBarPlugin(errors) {
  return {
    id: 'errorBars',
    beforeDatasetsDraw(chart) {
      const { ctx, scales: { x, y } } = chart;
      const pts = chart.data.datasets[0].data;
      ctx.save();
      ctx.strokeStyle = '#808080';
      ctx.lineWidth = 3;
      pts.forEach((p, i) => {
        const px = x.getPixelForValue(p.x);
        ctx.beginPath();
        ctx.moveTo(px, y.getPixelForValue(p.y - errors[i]));
        ctx.lineTo(px, y.getPixelForValue(p.y + errors[i]));
        ctx.stroke();
      });
      ctx.restore();
    }
  };
}

function xAxis(showLabels) {
  return {
    type: 'linear', min: -0.0515, max: 1.0488,
    afterBuildTicks: s => { s.ticks = xTicks.map(v => ({ value: v })); },
    afterFit: s => { s.height = showLabels ? 93 : 0; s.paddingLeft = 0; s.paddingRight = 0; },
    grid: { color: '#ffffff', lineWidth: 1.8, drawTicks: false },
    border: { display: false },
    ticks: { display: showLabels, autoSkip: false, maxRotation: 0, padding: 16.5, font: { size: 19.9 }, color: INK,
             callback: v => v.toFixed(1) },
    title: { display: showLabels, text: 'Phase', font: { size: 21.7 }, color: INK, padding: { top: 0, bottom: 24.7 } }
  };
}

function yAxis(min, max, ticks, digits, title) {
  return {
    type: 'linear', min: min, max: max,
    afterBuildTicks: s => { s.ticks = ticks.map(v => ({ value: v })); },
    afterFit: s => { s.width = Y_AXIS_W; s.paddingTop = 0; s.paddingBottom = 0; },
    grid: { color: '#ffffff', lineWidth: 1.8, drawTicks: false },
    border: { display: false },
    ticks: { padding: 19, font: { size: 19.9 }, color: INK, callback: v => v.toFixed(digits) },
    title: { display: !!title, text: title || '', font: { size: 21.7 }, color: INK, padding: { top: 33.3, bottom: 0 } }
  };
}

function specDataset(values, style, filledR, openR) {
  return {
    data: specPhase.map((p, i) => ({ x: p, y: values[i] })),
    pointStyle: style,
    pointRadius: specOpen.map(o => o ? openR : filledR),
    pointHoverRadius: specOpen.map(o => o ? openR : filledR),
    pointBackgroundColor: specColors.map((c, i) => specOpen[i] ? 'rgba(0,0,0,0)' : c),
    pointBorderColor: specColors,
    pointBorderWidth: specOpen.map(o => o ? 2 : 1),
    showLine: false
  };
}

const basePlugins = { legend: { display: false }, tooltip: { enabled: false } };

// Panel 1: TiO2n
const epicLabel = {
  id: 'epicLabel',
  afterDraw(chart) {
    const { ctx, chartArea: a } = chart;
    ctx.save();
    ctx.font = '18px "DejaVu Sans"';
    ctx.fillStyle = INK;
    ctx.textAlign = 'left';
    ctx.textBaseline = 'alphabetic';
    ctx.fillText('EPIC 211852399', a.left + 0.7527 * (a.right - a.left), a.top + 0.166 * (a.bottom - a.top));
    ctx.restore();
  }
};

new Chart(document.getElementById('tioChart'), {
  type: 'scatter',
  data: { datasets: [specDataset(tioValues, 'rectRot', 5.5, 4.6)] },
  options: {
    responsive: false,
    layout: { padding: { left: 0, right: 25, top: 24, bottom: 6 } },
    scales: { x: xAxis(false), y: yAxis(0.64534, 0.70745, tioTicks, 2, 'TiO2n') },
    plugins: basePlugins
  },
  plugins: [panelBg, errorBarPlugin(tioErrors), epicLabel]
});

// Panel 2: EW(H-alpha)
const ewTitle = {
  id: 'ewTitle',
  afterDraw(chart) {
    const { ctx, chartArea: a } = chart;
    const parts = [
      { t: 'EW', f: '21.7px "DejaVu Sans"', dy: 0 },
      { t: 'H\u03b1', f: 'italic 15.2px "DejaVu Sans"', dy: 3 },
      { t: ' (', f: '21.7px "DejaVu Sans"', dy: 0 },
      { t: '\u00c5', f: 'italic 21.7px "DejaVu Sans"', dy: 0 },
      { t: ')', f: '21.7px "DejaVu Sans"', dy: 0 }
    ];
    ctx.save();
    ctx.fillStyle = INK;
    ctx.textBaseline = 'alphabetic';
    ctx.textAlign = 'left';
    let total = 0;
    parts.forEach(p => { ctx.font = p.f; p.w = ctx.measureText(p.t).width; total += p.w; });
    ctx.translate(66.7, (a.top + a.bottom) / 2);
    ctx.rotate(-Math.PI / 2);
    let pos = -total / 2;
    parts.forEach(p => { ctx.font = p.f; ctx.fillText(p.t, pos, p.dy); pos += p.w; });
    ctx.restore();
  }
};

new Chart(document.getElementById('ewChart'), {
  type: 'scatter',
  data: { datasets: [specDataset(ewValues, 'circle', 4.7, 4.0)] },
  options: {
    responsive: false,
    layout: { padding: { left: 0, right: 25, top: 5.7, bottom: 4.7 } },
    scales: { x: xAxis(false), y: yAxis(0.80, 1.808, ewTicks, 1, null) },
    plugins: basePlugins
  },
  plugins: [panelBg, errorBarPlugin(ewErrors), ewTitle]
});

// Panel 3: K2 light curve
new Chart(document.getElementById('fluxChart'), {
  type: 'scatter',
  data: {
    datasets: lightCurves.map(([parts, color], i) => ({
      data: [].concat(...parts).map(([p, f]) => ({ x: p, y: f })),
      backgroundColor: color,
      borderColor: color,
      pointRadius: 2.9,
      pointBorderWidth: 0,
      order: lightCurves.length - i
    }))
  },
  options: {
    responsive: false,
    layout: { padding: { left: 0, right: 25, top: 6.5, bottom: 0 } },
    scales: { x: xAxis(true), y: yAxis(4700, 4806, fluxTicks, 0, 'K2 flux') },
    plugins: basePlugins
  },
  plugins: [panelBg]
});
</script>
</body>
</html>
